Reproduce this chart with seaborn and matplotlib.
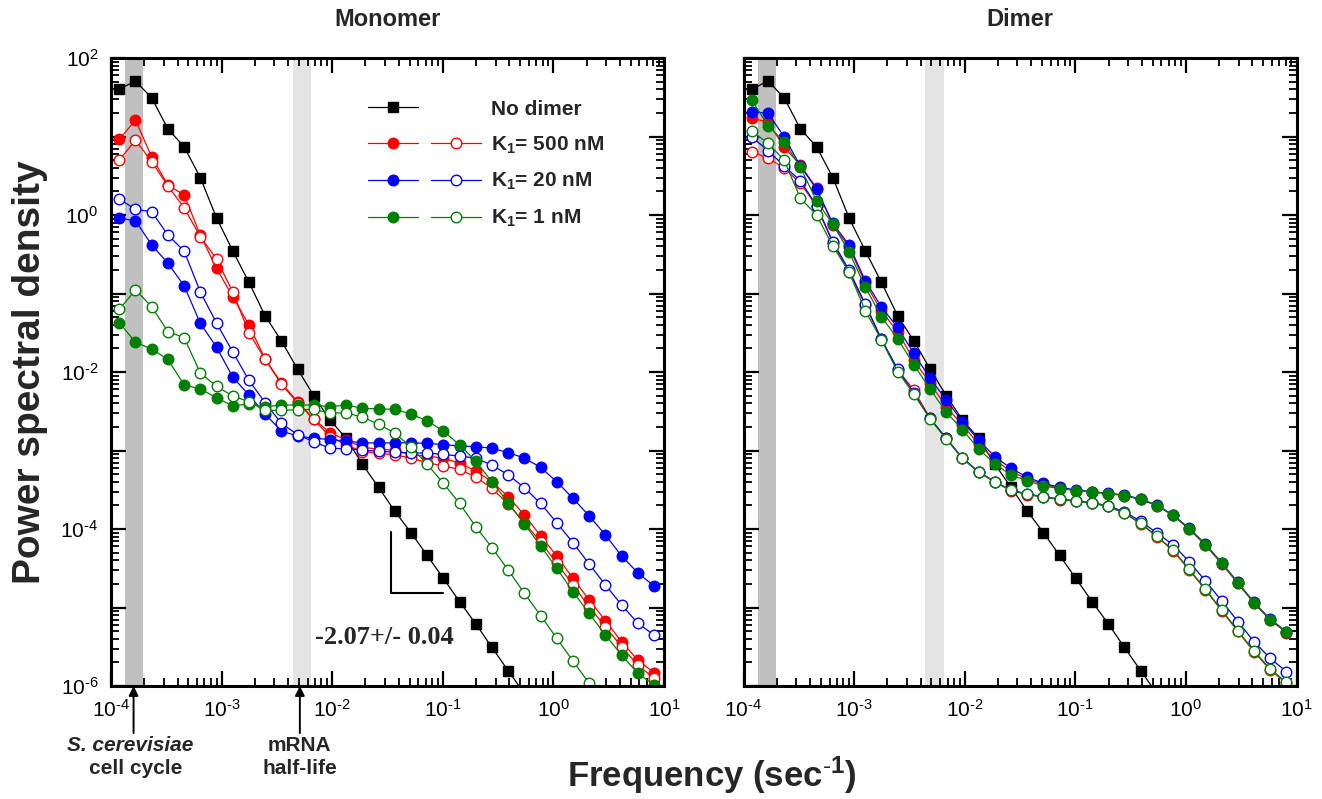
import numpy as np
import pandas as pd
import matplotlib
matplotlib.use("Agg")
import matplotlib.pyplot as plt
import matplotlib.transforms as mtransforms
import seaborn as sns
from matplotlib.ticker import LogLocator, FuncFormatter, NullFormatter
from matplotlib.legend_handler import HandlerTuple
from matplotlib.lines import Line2D

# ---------------- data ----------------
freq = [1.189e-4, 1.665e-4, 2.333e-4, 3.269e-4, 4.581e-4, 6.418e-4, 8.995e-4,
        1.261e-3, 1.766e-3, 2.475e-3, 3.467e-3, 4.859e-3, 6.808e-3, 9.539e-3,
        1.337e-2, 1.873e-2, 2.624e-2, 3.677e-2, 5.152e-2, 7.219e-2, 0.1012,
        0.1417, 0.1986, 0.2783, 0.3899, 0.5464, 0.7656, 1.073, 1.503, 2.106,
        2.951, 4.135, 5.794, 8.119]

no_dimer = [40, 51, 31, 12.5, 7.4, 3.0, 0.92, 0.35, 0.139, 0.052, 0.025, 0.0109,
            0.0050, 0.00245, 0.00143, 6.7e-4, 3.4e-4, 1.69e-4, 9.0e-5, 4.6e-5,
            2.35e-5, 1.19e-5, 6.2e-6, 3.1e-6, 1.57e-6, 8.0e-7]

mono_k500_filled = [9.2, 16.2, 5.5, 2.41, 1.80, 0.556, 0.209, 0.091, 0.0397, 0.0147,
                    0.00724, 0.00419, 0.00252, 0.00169, 0.00136, 0.00110, 0.00104,
                    0.00101, 8.8e-4, 8.5e-4, 8.0e-4, 6.9e-4, 5.5e-4, 4.0e-4, 2.58e-4,
                    1.51e-4, 8.2e-5, 4.53e-5, 2.35e-5, 1.25e-5, 6.8e-6, 3.67e-6,
                    2.14e-6, 1.48e-6]
mono_k500_open = [5.0, 9.0, 4.78, 2.34, 1.24, 0.53, 0.275, 0.105, 0.0317, 0.0145,
                  0.00703, 0.00403, 0.00250, 0.00150, 0.00118, 9.7e-4, 9.2e-4, 8.8e-4,
                  8.0e-4, 7.0e-4, 6.35e-4, 5.75e-4, 4.6e-4, 3.3e-4, 2.08e-4, 1.20e-4,
                  6.9e-5, 3.66e-5, 1.94e-5, 1.02e-5, 5.7e-6, 3.17e-6, 1.85e-6, 1.25e-6]
mono_k20_filled = [0.908, 0.846, 0.415, 0.243, 0.126, 0.0417, 0.0208, 0.00863, 0.00509,
                   0.00292, 0.00177, 0.00153, 0.00143, 0.00138, 0.00132, 0.00125,
                   0.00125, 0.00125, 0.00126, 0.00123, 0.00119, 0.00114, 0.00112,
                   0.00107, 9.4e-4, 8.0e-4, 6.1e-4, 4.0e-4, 2.46e-4, 1.47e-4, 8.4e-5,
                   4.53e-5, 2.77e-5, 1.88e-5]
mono_k20_open = [1.60, 1.18, 1.10, 0.556, 0.348, 0.105, 0.0421, 0.0180, 0.00784,
                 0.00406, 0.00222, 0.00159, 0.00129, 0.00107, 0.00105, 0.00101,
                 9.8e-4, 9.5e-4, 9.3e-4, 9.3e-4, 8.9e-4, 8.5e-4, 8.0e-4, 6.5e-4,
                 4.9e-4, 3.36e-4, 2.12e-4, 1.20e-4, 6.7e-5, 3.58e-5, 1.94e-5,
                 1.08e-5, 6.3e-6, 4.47e-6]
mono_k1_filled = [0.0425, 0.0239, 0.0196, 0.0145, 0.00683, 0.00611, 0.00469, 0.00371,
                  0.00391, 0.00361, 0.00380, 0.00380, 0.00380, 0.00361, 0.00380,
                  0.00345, 0.00338, 0.00335, 0.00292, 0.00238, 0.00177, 0.00118,
                  7.3e-4, 4.0e-4, 2.16e-4, 1.16e-4, 6.1e-5, 3.16e-5, 1.59e-5, 8.4e-6,
                  4.47e-6, 2.48e-6, 1.45e-6, 1.03e-6]
mono_k1_open = [0.0629, 0.111, 0.0679, 0.0326, 0.0275, 0.00971, 0.00657, 0.00494,
                0.00419, 0.00325, 0.00325, 0.00331, 0.00333, 0.00301, 0.00301,
                0.00267, 0.00216, 0.00167, 0.00110, 6.7e-4, 3.82e-4, 2.12e-4,
                1.07e-4, 5.8e-5, 3.0e-5, 1.52e-5, 7.9e-6, 4.05e-6, 2.08e-6, 1.08e-6,
                5.6e-7]

dim_k500_filled = [17.1, 15.3, 7.3, 4.33, 2.19, 0.746, 0.391, 0.136, 0.0598, 0.0326,
                   0.0142, 0.00718, 0.00361, 0.00211, 0.00121, 7.57e-4, 5.40e-4,
                   4.34e-4, 3.69e-4, 3.33e-4, 3.09e-4, 2.96e-4, 2.83e-4, 2.67e-4,
                   2.38e-4, 1.99e-4, 1.49e-4, 9.9e-5, 6.2e-5, 3.6e-5, 2.03e-5,
                   1.13e-5, 6.9e-6, 4.8e-6]
dim_k500_open = [6.4, 5.3, 3.97, 2.53, 1.30, 0.440, 0.188, 0.0714, 0.0260, 0.0106,
                 0.0059, 0.00257, 0.00143, 7.96e-4, 5.32e-4, 3.97e-4, 3.08e-4,
                 2.75e-4, 2.54e-4, 2.37e-4, 2.25e-4, 2.12e-4, 1.94e-4, 1.58e-4,
                 1.17e-4, 8.0e-5, 5.3e-5, 3.0e-5, 1.68e-5, 9.1e-6, 4.95e-6, 2.72e-6,
                 1.6e-6, 1.08e-6]
dim_k20_filled = [20.7, 19.8, 9.9, 4.21, 2.13, 0.784, 0.415, 0.146, 0.0673, 0.0369,
                  0.0173, 0.00832, 0.00440, 0.00233, 0.00136, 8.34e-4, 5.93e-4,
                  4.56e-4, 3.82e-4, 3.40e-4, 3.14e-4, 2.99e-4, 2.85e-4, 2.71e-4,
                  2.41e-4, 2.02e-4, 1.51e-4, 1.02e-4, 6.4e-5, 3.72e-5, 2.09e-5,
                  1.16e-5, 7.1e-6, 4.92e-6]
dim_k20_open = [9.9, 6.6, 4.21, 2.73, 1.31, 0.457, 0.199, 0.0735, 0.0261, 0.0109,
                0.00535, 0.00257, 0.00143, 8.02e-4, 5.37e-4, 4.0e-4, 3.14e-4, 2.79e-4,
                2.58e-4, 2.41e-4, 2.29e-4, 2.16e-4, 1.98e-4, 1.65e-4, 1.26e-4, 8.9e-5,
                6.3e-5, 3.83e-5, 2.18e-5, 1.22e-5, 6.6e-6, 3.67e-6, 2.25e-6, 1.52e-6]
dim_k1_filled = [29.2, 13.7, 8.6, 4.05, 1.51, 0.761, 0.341, 0.121, 0.0506, 0.0266,
                 0.0124, 0.00607, 0.00309, 0.00184, 0.00105, 6.73e-4, 4.88e-4,
                 4.12e-4, 3.53e-4, 3.28e-4, 3.09e-4, 2.96e-4, 2.83e-4, 2.67e-4,
                 2.38e-4, 1.99e-4, 1.49e-4, 1.01e-4, 6.3e-5, 3.69e-5, 2.07e-5,
                 1.15e-5, 7.0e-6, 4.88e-6]
dim_k1_open = [11.7, 8.2, 5.0, 1.63, 1.0, 0.403, 0.188, 0.0604, 0.0256, 0.0101,
               0.00525, 0.00252, 0.00140, 7.91e-4, 5.32e-4, 3.97e-4, 3.11e-4, 2.77e-4,
               2.56e-4, 2.39e-4, 2.27e-4, 2.14e-4, 1.96e-4, 1.60e-4, 1.19e-4, 8.1e-5,
               5.4e-5, 3.07e-5, 1.71e-5, 9.3e-6, 5.06e-6, 2.79e-6, 1.65e-6, 1.11e-6]

legend_labels = ["No dimer", r"K$_{\mathbf{1}}$= 500 nM", r"K$_{\mathbf{1}}$= 20 nM",
                 r"K$_{\mathbf{1}}$= 1 nM"]
panel_titles = ["Monomer", "Dimer"]
cell_cycle_band = [1.34e-4, 1.96e-4]
mrna_band = [4.42e-3, 6.45e-3]
arrow_freqs = [1.6e-4, 5.1e-3]
slope_x = [0.034, 0.034, 0.100]
slope_y = [9.2e-5, 1.52e-5, 1.52e-5]

RED, BLUE, GREEN = "#ff0000", "#0000ff", "#008000"

# ---------------- style ----------------
sns.set_theme(style="ticks")
plt.rcParams["font.family"] = ["Liberation Sans", "DejaVu Sans"]
plt.rcParams["mathtext.fontset"] = "custom"
plt.rcParams["mathtext.rm"] = "Liberation Sans"
plt.rcParams["mathtext.bf"] = "Liberation Sans:bold"
plt.rcParams["mathtext.it"] = "Liberation Sans:italic"

W, H = 1322, 799
fig = plt.figure(figsize=(W / 100, H / 100), dpi=100)
ax1 = fig.add_axes([111 / W, 1 - 686 / H, 553 / W, 628 / H])
ax2 = fig.add_axes([743.5 / W, 1 - 686 / H, 553 / W, 628 / H])


def draw(ax, values, color, filled=True, marker="o", ms=7.6):
    n = len(values)
    df = pd.DataFrame({"freq": freq[:n], "psd": values})
    sns.lineplot(data=df, x="freq", y="psd", ax=ax, color=color, marker=marker,
                 markersize=ms, markerfacecolor=color if filled else "white",
                 markeredgecolor=color, markeredgewidth=1.0, linewidth=0.9,
                 estimator=None, sort=False, legend=False)


def pow_label(e):
    if e < 0:
        return r"$\mathdefault{10^{\text{-}%d}}$" % (-e)
    return r"$\mathdefault{10^{%d}}$" % e


def xfmt(v, pos):
    return pow_label(int(round(np.log10(v))))


def yfmt(v, pos):
    e = int(round(np.log10(v)))
    if e % 2 != 0:
        return ""
    return pow_label(e)


for ax in (ax1, ax2):
    ax.set_xscale("log")
    ax.set_yscale("log")
    ax.axvspan(*cell_cycle_band, color="#c0c0c0", lw=0, zorder=0)
    ax.axvspan(*mrna_band, color="#e4e4e4", lw=0, zorder=0)

# Monomer panel
draw(ax1, no_dimer, "black", marker="s", ms=7)
draw(ax1, mono_k500_filled, RED)
draw(ax1, mono_k500_open, RED, filled=False)
draw(ax1, mono_k20_filled, BLUE)
draw(ax1, mono_k20_open, BLUE, filled=False)
draw(ax1, mono_k1_filled, GREEN)
draw(ax1, mono_k1_open, GREEN, filled=False)

# Dimer panel
draw(ax2, no_dimer, "black", marker="s", ms=7)
draw(ax2, dim_k500_filled, RED)
draw(ax2, dim_k500_open, RED, filled=False)
draw(ax2, dim_k20_filled, BLUE)
draw(ax2, dim_k20_open, BLUE, filled=False)
draw(ax2, dim_k1_filled, GREEN)
draw(ax2, dim_k1_open, GREEN, filled=False)

for ax in (ax1, ax2):
    ax.set_xlim(1e-4, 10)
    ax.set_ylim(1e-6, 1e2)
    ax.set_xlabel("")
    ax.set_ylabel("")
    ax.xaxis.set_major_locator(LogLocator(base=10, numticks=20))
    ax.xaxis.set_minor_locator(LogLocator(base=10, subs=np.arange(2, 10), numticks=20))
    ax.yaxis.set_major_locator(LogLocator(base=10, numticks=20))
    ax.yaxis.set_minor_locator(LogLocator(base=10, subs=np.arange(2, 10), numticks=20))
    ax.xaxis.set_minor_formatter(NullFormatter())
    ax.yaxis.set_minor_formatter(NullFormatter())
    ax.xaxis.set_major_formatter(FuncFormatter(xfmt))
    ax.yaxis.set_major_formatter(FuncFormatter(yfmt))
    ax.tick_params(which="both", direction="in", top=True, right=True, colors="black")
    ax.tick_params(which="major", length=11, width=1.6, labelsize=15, pad=9)
    ax.tick_params(which="minor", length=6, width=1.3)
    for s in ax.spines.values():
        s.set_linewidth(2.2)
        s.set_color("black")
        s.set_zorder(5)
    ax.grid(False)

ax2.tick_params(labelleft=False)

# Legend
h_black = (Line2D([], [], color="black", marker="s", ms=7, lw=0.9),
           Line2D([], [], alpha=0))
h_red = (Line2D([], [], color=RED, marker="o", ms=7.6, lw=0.9),
         Line2D([], [], color=RED, marker="o", ms=7.6, lw=0.9, mfc="white", mec=RED))
h_blue = (Line2D([], [], color=BLUE, marker="o", ms=7.6, lw=0.9),
          Line2D([], [], color=BLUE, marker="o", ms=7.6, lw=0.9, mfc="white", mec=BLUE))
h_green = (Line2D([], [], color=GREEN, marker="o", ms=7.6, lw=0.9),
           Line2D([], [], color=GREEN, marker="o", ms=7.6, lw=0.9, mfc="white", mec=GREEN))
ax1.legend([h_black, h_red, h_blue, h_green], legend_labels,
           handler_map={tuple: HandlerTuple(ndivide=None, pad=0.6)},
           loc="upper left", bbox_to_anchor=(0.45, 0.947), frameon=False,
           handlelength=5.4, handletextpad=0.5, labelspacing=0.75,
           prop=dict(weight="bold", size=15), borderaxespad=0)

# Slope annotation
ax1.plot(slope_x, slope_y, color="black", lw=1.5)
ax1.text(0.0294, 4.1e-6, "-2.07+/- 0.04", family="Liberation Serif", weight="bold",
         fontsize=19, ha="center", va="center")

# Arrows and labels below monomer axis
trans = mtransforms.blended_transform_factory(ax1.transData, ax1.transAxes)
for fx in arrow_freqs:
    ax1.annotate("", xy=(fx, 0), xycoords=trans, xytext=(fx, -0.075), textcoords=trans,
                 arrowprops=dict(arrowstyle="-|>", color="black", lw=1.4,
                                 mutation_scale=14, shrinkA=0, shrinkB=0),
                 annotation_clip=False)
ax1.text(1.49e-4, -0.095, "S. cerevisiae", transform=trans, ha="center", va="center",
         fontsize=15, weight="bold", style="italic")
ax1.text(1.68e-4, -0.131, "cell cycle", transform=trans, ha="center", va="center",
         fontsize=15, weight="bold")
ax1.text(5.1e-3, -0.095, "mRNA", transform=trans, ha="center", va="center",
         fontsize=15, weight="bold")
ax1.text(5.1e-3, -0.131, "half-life", transform=trans, ha="center", va="center",
         fontsize=15, weight="bold")

# Titles and axis labels
fig.text(388 / W, 1 - 20 / H, panel_titles[0], ha="center", va="center",
         fontsize=17, weight="bold")
fig.text(1020 / W, 1 - 20 / H, panel_titles[1], ha="center", va="center",
         fontsize=17, weight="bold")
fig.text(30 / W, 1 - 372 / H, "Power spectral density", rotation=90, ha="center",
         va="center", fontsize=28, weight="bold")
fig.text(712 / W, 1 - 775 / H, r"Frequency (sec$^{\text{-}\mathbf{1}}$)", ha="center",
         va="center", fontsize=25, weight="bold")

fig.savefig("out.png", dpi=100)
